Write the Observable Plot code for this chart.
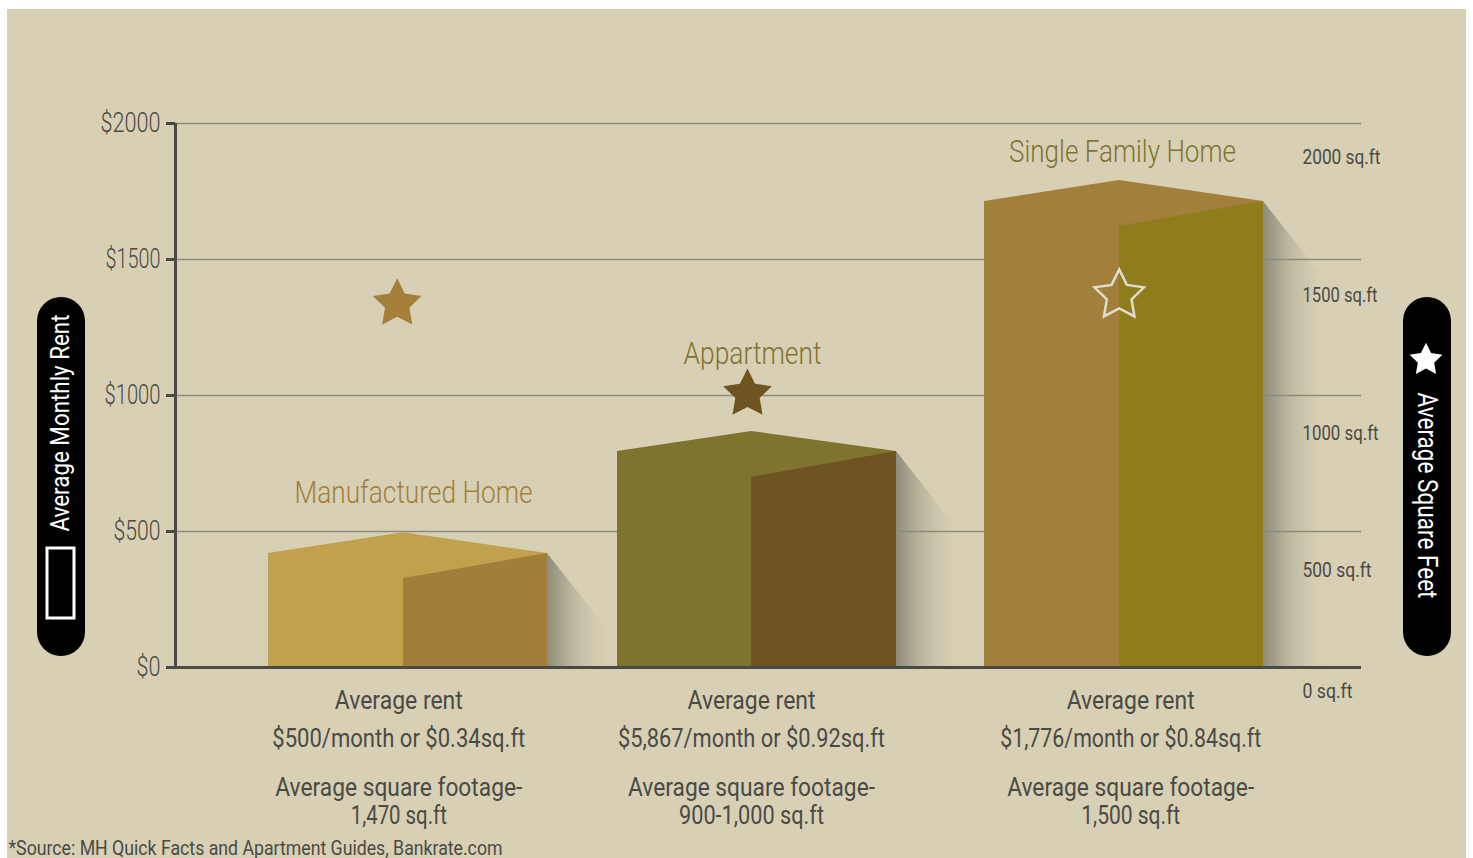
<!DOCTYPE html>
<html><head><meta charset="utf-8">
<script src="https://cdn.jsdelivr.net/npm/d3@7"></script>
<script src="https://cdn.jsdelivr.net/npm/@observablehq/plot@0.6"></script>
<style>
html,body{margin:0;padding:0;background:#fff;overflow:hidden;width:1473px;height:858px}
#panel{position:absolute;left:7px;top:9px;width:1459px;height:849px;background:#d7d0b4}
#chart{position:absolute;left:0;top:0}
svg{display:block}
</style></head><body><div id="panel"></div><div id="chart"></div>
<script>
// ---- data ----
const categories = ["Manufactured Home", "Appartment", "Single Family Home"];
const peakRent   = [495, 868, 1790];
const cornerRent = [419, 794, 1713];
const innerRent  = [327, 699, 1621];
const starLevel  = [1337, 1005, 1368];
const labelLevel = [643, 1154, 1897];
const rentTicks  = [0, 500, 1000, 1500, 2000];
const sqftTicks  = [0, 500, 1000, 1500, 2000];
const rentLine   = ["$500/month or $0.34sq.ft", "$5,867/month or $0.92sq.ft", "$1,776/month or $0.84sq.ft"];
const sqftLine   = ["1,470 sq.ft", "900-1,000 sq.ft", "1,500 sq.ft"];

// ---- layout ----
const FONT = "Roboto,sans-serif";
const INK = "#4a4a45";
const left = [268, 617, 984], front = [135, 134, 135], W = 279;
const textX = [398.3, 751, 1130.2], starX = [396.7, 747, 1118.7];
const faceA = ["#c1a24c", "#7f742f", "#a27f3a"], faceB = ["#a17f3a", "#6e5420", "#8f7c1b"];
const labelColor = ["#a37f3a", "#7f7430", "#7f7430"];
const starFill = ["#a37f3a", "#6e5420", "none"], starStroke = ["none", "none", "#dedbd2"], starR = [25.6, 25.6, 26];
const sqftDy = {2000: 34, 1500: 36, 1000: 38, 500: 39, 0: 24};
const k = 544 / 2000, yv = py => (667 - py) / k; // pixel row on the rent scale

// squeeze Roboto to the width of the reference's condensed face
const textWidths = {
  "Average rent": 128, "Average square footage-": 247,
  "$500/month or $0.34sq.ft": 253, "$5,867/month or $0.92sq.ft": 267, "$1,776/month or $0.84sq.ft": 261,
  "1,470 sq.ft": 96, "900-1,000 sq.ft": 145, "1,500 sq.ft": 99,
  "Manufactured Home": 238, "Appartment": 138, "Single Family Home": 227,
  "$2000": 60, "$1500": 55, "$1000": 56, "$500": 47, "$0": 24,
  "2000 sq.ft": 78, "1500 sq.ft": 75, "1000 sq.ft": 76, "500 sq.ft": 69, "0 sq.ft": 50,
  "Average Monthly Rent": 217, "Average Square Feet": 206,
  "*Source: MH Quick Facts and Apartment Guides, Bankrate.com": 494
};

const fatStar = {draw(ctx, size) {
  const R = Math.sqrt(size / Math.PI), r = R * 0.5;
  for (let i = 0; i < 10; ++i) {
    const a = -Math.PI / 2 + i * Math.PI / 5, q = i % 2 ? r : R;
    i ? ctx.lineTo(q * Math.cos(a), q * Math.sin(a)) : ctx.moveTo(q * Math.cos(a), q * Math.sin(a));
  }
  ctx.closePath();
}};

const gradient = () => {
  const d = d3.create("svg:defs");
  const g = d.append("linearGradient").attr("id", "shade").attr("x1", 0).attr("x2", 1).attr("y1", 0).attr("y2", 0);
  g.append("stop").attr("offset", "0").attr("stop-color", "#8f8c7c");
  g.append("stop").attr("offset", "0.35").attr("stop-color", "#bab49c");
  g.append("stop").attr("offset", "1").attr("stop-color", "#d7d0b4").attr("stop-opacity", 0);
  return d.node();
};

const line = (s, x, dy, o = {}) => Plot.text([s], {x: () => x, y: () => 0, dy, fontSize: 26, fill: INK, ...o});

const marks = [
  gradient,
  ...categories.map((c, i) => {
    const x0 = left[i] + W, run = 68;
    return Plot.areaY([[x0, cornerRent[i]], [x0 + run, Math.max(cornerRent[i] - run * 1.27 / k, 0)]],
      {x: d => d[0], y1: () => 0, y2: d => d[1], fill: "url(#shade)"});
  }),
  Plot.ruleY(rentTicks.filter(d => d > 0), {stroke: "#8b8a80", strokeWidth: 1.5}),
  ...categories.flatMap((c, i) => [
    Plot.areaY([[left[i], cornerRent[i]], [left[i] + front[i], peakRent[i]], [left[i] + W, cornerRent[i]]],
      {x: d => d[0], y1: () => 0, y2: d => d[1], fill: faceA[i]}),
    Plot.areaY([[left[i] + front[i], innerRent[i]], [left[i] + W, cornerRent[i]]],
      {x: d => d[0], y1: () => 0, y2: d => d[1], fill: faceB[i]}),
    Plot.text([c], {x: () => [413, 752, 1122][i], y: () => labelLevel[i], fontSize: 32, fontWeight: 300, fill: labelColor[i]}),
    Plot.dot([starLevel[i]], {x: () => starX[i], y: d => d, symbol: fatStar, r: starR[i], fill: starFill[i], stroke: starStroke[i], strokeWidth: 2.5}),
    line("Average rent", textX[i], 33),
    line(rentLine[i], textX[i], 71),
    line("Average square footage-", textX[i], 120),
    line(sqftLine[i], textX[i], 148)
  ]),
  Plot.axisY({ticks: rentTicks, tickFormat: d => "$" + d, tickSize: 9, tickPadding: 6, label: null, fontSize: 27, fontWeight: 300, fill: INK, stroke: INK, strokeWidth: 3, marginLeft: 175}),
  Plot.ruleX([175], {y1: 0, y2: 2000, stroke: INK, strokeWidth: 3}),
  Plot.ruleY([0], {stroke: INK, strokeWidth: 3}),
  ...sqftTicks.map(t => Plot.text([t + " sq.ft"], {x: () => 1302, y: () => t, dy: sqftDy[t], textAnchor: "start", fontSize: 21, fill: INK})),
  // side pills
  Plot.rect([0], {x1: () => 37, x2: () => 85, y1: () => yv(656), y2: () => yv(297), fill: "#000", rx: 24}),
  Plot.rect([0], {x1: () => 1403, x2: () => 1451, y1: () => yv(656), y2: () => yv(297), fill: "#000", rx: 24}),
  Plot.rect([0], {x1: () => 47, x2: () => 74, y1: () => yv(618), y2: () => yv(548), fill: "none", stroke: "#fff", strokeWidth: 3}),
  Plot.text(["Average Monthly Rent"], {x: () => 60, y: () => yv(422.5), rotate: -90, fontSize: 25, fill: "#fff"}),
  Plot.text(["Average Square Feet"], {x: () => 1426, y: () => yv(495), rotate: 90, fontSize: 27, fill: "#fff"}),
  Plot.dot([0], {x: () => 1425.5, y: () => yv(359.5), symbol: fatStar, r: 17.2, fill: "#fff"}),
  Plot.text(["*Source: MH Quick Facts and Apartment Guides, Bankrate.com"], {x: () => 8, y: () => 0, dy: 181, textAnchor: "start", fontSize: 21, fill: INK})
];

const chart = Plot.plot({
  width: 1473, height: 858,
  marginLeft: 175, marginRight: 112, marginTop: 123, marginBottom: 191,
  x: {type: "linear", domain: [175, 1361], axis: null},
  y: {domain: [0, 2000], axis: null},
  style: {background: "transparent", fontFamily: FONT},
  marks
});
document.getElementById("chart").appendChild(chart);
chart.querySelectorAll("text").forEach(t => {
  const w = textWidths[t.textContent];
  if (w) { t.setAttribute("textLength", w); t.setAttribute("lengthAdjust", "spacingAndGlyphs"); }
});
</script></body></html>
